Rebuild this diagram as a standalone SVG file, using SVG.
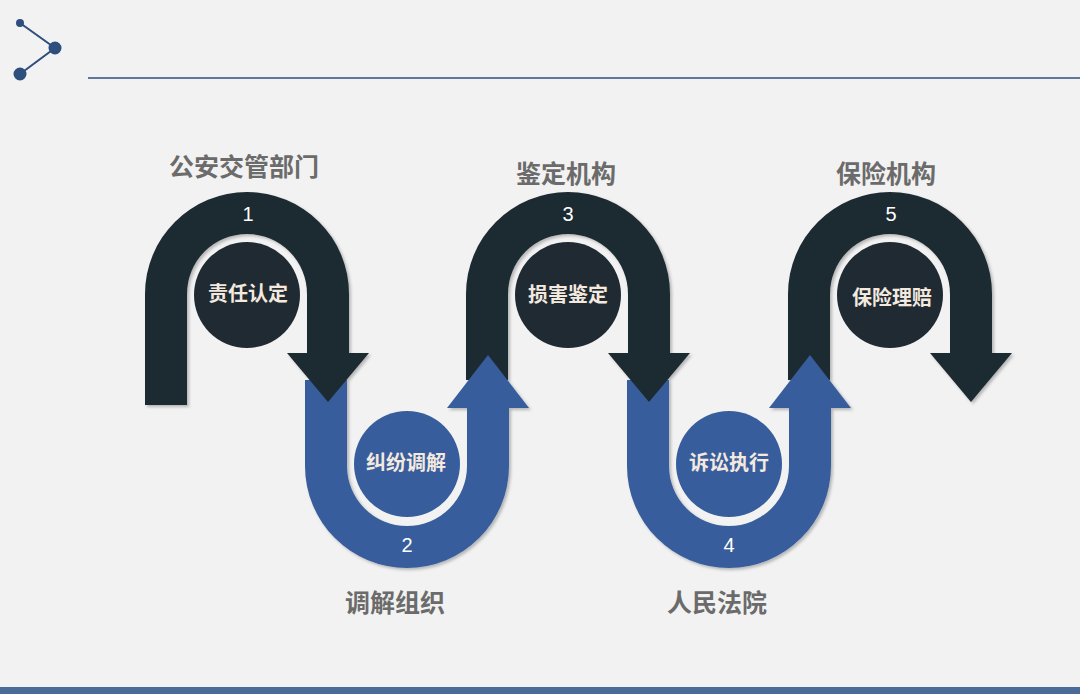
<svg xmlns="http://www.w3.org/2000/svg" width="1080" height="694" viewBox="0 0 1080 694">
<defs>
<style>
.d{fill:#1f2a33}.b{fill:#385d9c}
.n{font-family:"Liberation Sans",sans-serif;font-size:20px;fill:#fff;text-anchor:middle}
.t{font-family:"Noto Sans CJK SC",sans-serif;font-weight:bold;font-size:25px;fill:#6b6b6b;text-anchor:middle}
.c{font-family:"Noto Sans CJK SC",sans-serif;font-weight:bold;font-size:20px;fill:#f3e9df;text-anchor:middle}
</style>
<filter id="sh"><feDropShadow dx="2" dy="2" stdDeviation="1.5" flood-opacity="0.25"/></filter>
</defs>
<rect width="1080" height="694" fill="#f2f2f2"/>
<g id="logo" stroke="#2e4e7e" stroke-width="2" fill="#2e4e7e">
<polyline points="20,23 55,48 20,74" fill="none"/>
<circle cx="20" cy="23" r="3"/><circle cx="55" cy="48" r="5.5"/><circle cx="20" cy="74" r="5.5"/>
</g>
<line x1="88" y1="78" x2="1080" y2="78" stroke="#2e4e7e" stroke-width="1.5"/>
<rect x="0" y="687" width="1080" height="7" fill="#4a6a9a"/>
<g id="connectors" filter="url(#sh)">
<path class="d" d="M145,405 L145,294 A102,102 0 0 1 349,294 L349,353 L307,353 L307,294 A60,60 0 0 0 187,294 L187,405 Z"/>
<path class="b" d="M305,380 L305,466 A102,102 0 0 0 509,466 L509,408 L467,408 L467,466 A60,60 0 0 1 347,466 L347,380 Z"/>
<path class="d" d="M466,380 L466,294 A102,102 0 0 1 670,294 L670,353 L628,353 L628,294 A60,60 0 0 0 508,294 L508,380 Z"/>
<path class="b" d="M627,380 L627,466 A102,102 0 0 0 831,466 L831,408 L789,408 L789,466 A60,60 0 0 1 669,466 L669,380 Z"/>
<path class="d" d="M788,380 L788,294 A102,102 0 0 1 992,294 L992,353 L950,353 L950,294 A60,60 0 0 0 830,294 L830,380 Z"/>
<polygon class="d" points="287,353 369,353 328,402"/>
<polygon class="b" points="447,408 529,408 488,355"/>
<polygon class="d" points="608,353 690,353 649,402"/>
<polygon class="b" points="769,408 851,408 810,355"/>
<polygon class="d" points="930,353 1012,353 971,402"/>
</g>
<g id="n1"><circle class="d" cx="247" cy="295" r="53"/><text class="c" x="248" y="301">责任认定</text><text class="n" x="248" y="221">1</text><text class="t" x="244" y="176">公安交管部门</text></g>
<g id="n2"><circle class="b" cx="407" cy="464" r="53"/><text class="c" x="406" y="470">纠纷调解</text><text class="n" x="407" y="552">2</text><text class="t" x="395" y="612">调解组织</text></g>
<g id="n3"><circle class="d" cx="568" cy="295" r="53"/><text class="c" x="568" y="302">损害鉴定</text><text class="n" x="568" y="221">3</text><text class="t" x="566" y="183">鉴定机构</text></g>
<g id="n4"><circle class="b" cx="729" cy="464" r="53"/><text class="c" x="729" y="470">诉讼执行</text><text class="n" x="729" y="552">4</text><text class="t" x="717" y="612">人民法院</text></g>
<g id="n5"><circle class="d" cx="890" cy="295" r="53"/><text class="c" x="892" y="305">保险理赔</text><text class="n" x="891" y="221">5</text><text class="t" x="886" y="183">保险机构</text></g>
</svg>
